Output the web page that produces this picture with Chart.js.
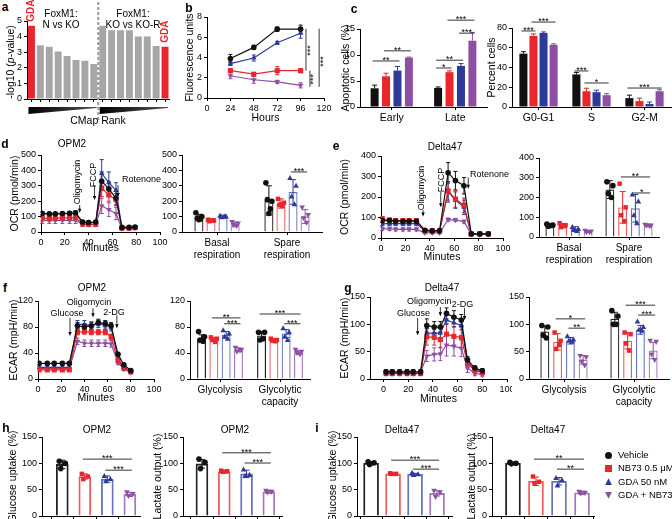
<!DOCTYPE html>
<html><head><meta charset="utf-8">
<script src="https://cdn.jsdelivr.net/npm/chart.js@4.4.1/dist/chart.umd.min.js"></script>
<style>
body{margin:0;background:#fff;font-family:'Liberation Sans',Arial,sans-serif;color:#000}
#fig{position:relative;width:672px;height:519px;overflow:hidden;background:#fff}
#fig canvas{position:absolute}
.t{position:absolute;white-space:nowrap;font-size:10px;line-height:1;transform:translate(-50%,-50%)}
.mk{position:absolute;width:7px;height:7px}
</style></head><body><div id="fig"></div>
<script>
// ---- data ----
const cmapRank = [1,2,3,4,5,6,7,8,9,10,11,12,13,14,15,16];
const cmapLogP = [4.7,3.45,3.35,3.05,2.75,2.5,2.45,2.25,4.7,4.4,4.4,4.4,4.0,4.0,3.4,3.35];

const treatments = ['Vehicle','NB73 0.5 μM','GDA 50 nM','GDA + NB73'];

const hours = [24,48,72,96];
const hourTicks = [0,24,48,72,96,120];
const fluo = [[3.9,5.0,6.8,6.8],[2.7,2.35,2.7,2.7],[3.4,3.95,5.45,6.4],[2.2,1.8,1.6,1.25]];
const fluoErr = [[0.4,0.2,0.2,0.4],[0.2,0.15,0.4,0.2],[0.2,0.3,0.15,0.5],[0.3,0.35,0.15,0.25]];

const apoCats = ['Early','Late'];
const apoPct = [[3.6,3.65],[5.9,6.7],[7.0,7.9],[9.5,12.75]];
const apoErr = [[0.6,0.2],[0.6,0.25],[0.8,0.45],[0.1,1.6]];
const cycCats = ['G0-G1','S','G2-M'];
const cycPct = [[54,33,9],[72,16,6],[75,15,3],[63,12,16]];
const cycErr = [[2,2,3],[2,3,3],[1,2,2],[1,1.5,1.5]];

const minTicks = [0,20,40,60,80,100];
const ocrTimeO = [1,7,12,18,24,29,35,40,46,51,57,63,68,74,79];
const ocrO = [
  [120,118,118,120,122,125,65,62,65,330,280,220,30,30,32],
  [90,88,90,92,92,95,52,50,50,285,240,210,25,25,28],
  [120,118,118,118,120,120,62,60,62,380,320,270,28,28,30],
  [75,75,75,75,75,75,50,48,48,170,145,120,22,25,25]];
const ocrOErr = [
  [10,8,8,10,10,12,10,10,10,60,45,45,8,8,8],
  [18,18,18,18,18,18,12,12,12,55,40,40,8,8,8],
  [8,8,8,8,8,8,10,10,10,90,70,50,8,8,8],
  [20,20,20,20,20,20,12,12,12,50,45,40,8,8,8]];
const respCats = [['Basal','respiration'],['Spare','respiration']];
const respO = [[95,205],[75,185],[100,260],[50,100]];
const respOErr = [[20,95],[10,30],[10,80],[15,45]];
const respOPts = [
  [[125,100,90,85,80],[320,200,210,150,120]],
  [[80,75,70,75],[215,190,175,170,180]],
  [[105,100,95,100],[350,300,230,180]],
  [[65,55,45,40],[160,110,90,60]]];

const ocrTimeD = [1,7,12,18,23,29,36,42,48,55,61,68,74,81,88];
const ocrD = [
  [85,85,82,82,82,82,38,35,35,318,280,255,20,20,20],
  [95,88,85,85,85,85,35,35,35,230,190,160,20,20,20],
  [70,70,70,70,70,70,35,35,35,225,185,150,18,18,18],
  [45,45,42,42,42,42,25,25,25,90,88,80,18,18,18]];
const ocrDErr = [
  [10,10,8,8,8,8,8,8,8,50,45,40,5,5,5],
  [8,8,8,8,8,8,8,8,8,45,40,35,5,5,5],
  [10,10,10,10,10,10,8,8,8,50,40,35,5,5,5],
  [8,8,8,8,8,8,5,5,5,8,8,8,4,4,4]];
const respD = [[60,240],[58,150],[40,145],[28,60]];
const respDErr = [[6,45],[10,80],[12,70],[5,5]];
const respDPts = [
  [[65,60,55,58],[280,260,220,200]],
  [[70,60,50,55],[270,150,110,80]],
  [[50,40,35,30],[215,180,110,70]],
  [[32,28,25,25],[62,58,58,55]]];

const ecarTimeO = [1,8,14,21,27,34,40,46,52,58,63,69,74,80];
const ecarO = [
  [24,24,24,24,24,82,80,82,87,85,82,38,22,13],
  [14,14,14,14,14,72,73,72,72,72,65,28,17,11],
  [18,18,18,18,18,84,84,82,85,83,80,32,18,12],
  [16,16,16,16,16,58,55,55,55,55,54,25,15,10]];
const ecarOErr = [
  [2,2,2,2,2,5,5,5,5,5,5,3,2,2],
  [2,2,2,2,2,4,4,4,4,4,4,3,2,2],
  [2,2,2,2,2,6,6,6,6,6,6,3,2,2],
  [2,2,2,2,2,5,5,5,5,5,5,3,2,2]];
const glyCats = ['Glycolysis',['Glycolytic','capacity']];
const glyO = [[62,67],[61,60],[68,70],[45,41]];
const glyOErr = [[6,6],[3,2],[5,6],[3,3]];
const glyOPts = [
  [[73,65,60,58],[72,72,60,62]],
  [[64,62,60,57],[62,60,59,58]],
  [[75,70,65,62],[78,72,65,60]],
  [[48,45,42,44],[45,42,40,38]]];

const ecarTimeD = [2,7,13,19,24,30,35,41,46,51,57,63,68,74,80];
const ecarD = [
  [13,13,13,13,13,13,98,95,95,120,113,108,35,20,15],
  [11,11,11,11,11,11,77,76,72,82,78,76,28,15,12],
  [10,10,10,10,10,10,84,84,84,108,103,98,30,18,12],
  [12,12,12,12,12,12,42,45,46,62,60,56,20,10,8]];
const ecarDErr = [
  [4,4,4,4,4,4,12,10,10,10,12,10,6,4,4],
  [4,4,4,4,4,4,15,14,15,20,18,18,8,5,5],
  [4,4,4,4,4,4,8,8,8,8,8,8,6,4,4],
  [4,4,4,4,4,4,10,12,12,20,18,15,8,4,4]];
const glyD = [[87,110],[68,70],[70,90],[35,52]];
const glyDErr = [[10,12],[15,15],[6,8],[8,15]];
const glyDPts = [
  [[98,95,80,75],[125,115,100,100]],
  [[85,70,55,62],[85,82,65,52]],
  [[78,72,70,68],[105,95,90,88]],
  [[42,40,32,25],[70,68,45,35]]];

const glucO = [98,75,70,41], glucOErr = [8,5,6,4];
const glucOPts = [[104,100,90],[80,75,70],[76,70,66],[45,42,38]];
const lacO = [99,84,80,46], lacOErr = [8,2,7,3];
const lacOPts = [[108,102,90],[86,85,84],[88,78,76],[48,46,45]];
const glucD = [100,80,79,43], glucDErr = [3,1,2,5];
const glucDPts = [[103,101,98],[81,80,80],[82,79,78],[48,45,36]];
const lacD = [100,66,66,44], lacDErr = [2,8,7,3];
const lacDPts = [[102,100,99],[75,65,62],[72,68,58],[46,44,43]];
const barPos = [1,2,3,4];

// ---- styles ----
const FONT = "'Liberation Sans', Arial, sans-serif";
Chart.defaults.font.family = FONT;
Chart.defaults.color = '#000';
const SER = [
  {c:'#111111', lc:'#222222', ps:'circle', rot:0, r:2.8},
  {c:'#e8262b', lc:'#ef5a5e', ps:'rect', rot:0, r:3.6},
  {c:'#2d3a98', lc:'#6674c2', ps:'triangle', rot:0, r:3.2},
  {c:'#8d4fa2', lc:'#a577bd', ps:'triangle', rot:180, r:3.2}];
const RED = '#e8262b', GREY = '#a6a6a6';
const TICK = 9;

const fig = document.getElementById('fig');
const extras = {};

function put(html, x, y, css) {
  const d = document.createElement('div');
  d.className = 't'; d.innerHTML = html;
  d.style.left = x + 'px'; d.style.top = y + 'px';
  if (css) d.style.cssText += css;
  fig.appendChild(d);
  return d;
}

function pick(v, i) { return Array.isArray(v) ? v[i] : v; }

function mark(ctx, st, x, y, r) {
  ctx.beginPath();
  if (st.ps === 'circle') ctx.arc(x, y, r, 0, Math.PI * 2);
  else if (st.ps === 'rect') ctx.rect(x - r * 0.8, y - r * 0.8, r * 1.6, r * 1.6);
  else {
    const s = st.rot ? -1 : 1;
    ctx.moveTo(x, y - s * r * 1.1); ctx.lineTo(x + r, y + s * r * 0.7); ctx.lineTo(x - r, y + s * r * 0.7);
    ctx.closePath();
  }
  ctx.fill();
}

function errBars(ch, di, up) {
  const ds = ch.data.datasets[di], meta = ch.getDatasetMeta(di), ys = ch.scales.y, ctx = ch.ctx;
  ctx.save(); ctx.lineWidth = 1;
  meta.data.forEach((el, i) => {
    const d = ds.data[i], v = typeof d === 'object' ? d.y : d, e = ds.errs[i];
    if (!e) return;
    const x = el.x, ya = ys.getPixelForValue(v + e), yb = ys.getPixelForValue(up ? v : v - e), w = ds.cap || 2.5;
    ctx.strokeStyle = pick(ds.errColor, i);
    ctx.beginPath(); ctx.moveTo(x, ya); ctx.lineTo(x, yb);
    ctx.moveTo(x - w, ya); ctx.lineTo(x + w, ya);
    if (!up) { ctx.moveTo(x - w, yb); ctx.lineTo(x + w, yb); }
    ctx.stroke();
  });
  ctx.restore();
}

const JIT = [-3, 3, -1.5, 1.5, 0];
function dots(ch, di) {
  const ds = ch.data.datasets[di], meta = ch.getDatasetMeta(di), ys = ch.scales.y, ctx = ch.ctx;
  meta.data.forEach((el, i) => {
    const st = pick(ds.dotStyle, i);
    ctx.fillStyle = st.c;
    ds.pts[i].forEach((v, k) => mark(ctx, st, el.x + JIT[k], ys.getPixelForValue(v), 2.8));
  });
}

function sig(ch, a, b, yv, txt) {
  const ea = ch.getDatasetMeta(a[0]).data[a[1]], eb = ch.getDatasetMeta(b[0]).data[b[1]];
  const y = ch.scales.y.getPixelForValue(yv), ctx = ch.ctx;
  ctx.strokeStyle = '#000'; ctx.lineWidth = 0.8;
  ctx.beginPath(); ctx.moveTo(ea.x - 2, y); ctx.lineTo(eb.x + 2, y); ctx.stroke();
  ctx.fillStyle = '#000'; ctx.font = '9px ' + FONT; ctx.textAlign = 'center'; ctx.textBaseline = 'alphabetic';
  ctx.fillText(txt, (ea.x + eb.x) / 2, y + 2);
}

function note(ch, txt, xv, yv, opt) {
  opt = opt || {};
  const ctx = ch.ctx, x = ch.scales.x.getPixelForValue(xv), y = ch.scales.y.getPixelForValue(yv);
  ctx.save(); ctx.translate(x, y); if (opt.rot) ctx.rotate(opt.rot);
  ctx.font = (opt.bold ? 'bold ' : '') + (opt.size || 9) + 'px ' + FONT;
  ctx.fillStyle = opt.color || '#000'; ctx.textAlign = opt.align || 'center'; ctx.textBaseline = 'middle';
  ctx.fillText(txt, 0, 0); ctx.restore();
}

function arrow(ch, xv, y1v, y2v) {
  const ctx = ch.ctx, x = ch.scales.x.getPixelForValue(xv);
  const y1 = ch.scales.y.getPixelForValue(y1v), y2 = ch.scales.y.getPixelForValue(y2v);
  ctx.strokeStyle = '#000'; ctx.fillStyle = '#000'; ctx.lineWidth = 0.8;
  ctx.beginPath(); ctx.moveTo(x, y1); ctx.lineTo(x, y2 - 2); ctx.stroke();
  ctx.beginPath(); ctx.moveTo(x, y2); ctx.lineTo(x - 1.7, y2 - 4); ctx.lineTo(x + 1.7, y2 - 4); ctx.closePath(); ctx.fill();
}

function vline(ch, xv, y1v, y2v) {
  const ctx = ch.ctx, x = ch.scales.x.getPixelForValue(xv);
  ctx.strokeStyle = '#000'; ctx.lineWidth = 0.8;
  ctx.beginPath(); ctx.moveTo(x, ch.scales.y.getPixelForValue(y1v)); ctx.lineTo(x, ch.scales.y.getPixelForValue(y2v)); ctx.stroke();
}

Chart.register({
  id: 'extras',
  beforeDatasetsDraw(ch) {
    if (ch.config.type === 'line') ch.data.datasets.forEach((ds, i) => { if (ds.errs) errBars(ch, i, false); });
  },
  afterDatasetsDraw(ch) {
    if (ch.config.type === 'bar') ch.data.datasets.forEach((ds, i) => {
      if (ds.errs) errBars(ch, i, ds.upOnly);
      if (ds.pts) dots(ch, i);
    });
    const f = extras[ch.canvas.id];
    if (f) { ch.ctx.save(); f(ch); ch.ctx.restore(); }
  }
});

const AXLINE = { display: true, color: '#000', width: 1 };
const TICKGRID = { drawOnChartArea: false, drawTicks: true, tickLength: 3, tickColor: '#000', color: '#000' };
function titleOpt(t) { return { display: !!t, text: t || '', font: { size: 10.5 }, color: '#000', padding: 0 }; }
function yLin(min, max, step, title) {
  return { type: 'linear', min, max, border: AXLINE, grid: TICKGRID,
    ticks: { stepSize: step, font: { size: TICK }, color: '#000', padding: 2 }, title: titleOpt(title) };
}
function xLin(min, max, ticks, title, hide) {
  const tk = { font: { size: TICK }, color: '#000', padding: 2 };
  if (hide) tk.callback = () => '';
  return { type: 'linear', min, max, offset: false,
    afterBuildTicks: s => { s.ticks = ticks.map(v => ({ value: v })); },
    border: AXLINE, grid: TICKGRID, ticks: tk, title: titleOpt(title) };
}
function xCat(size, hide) {
  const tk = { font: { size }, color: '#000', padding: 2, maxRotation: 0, autoSkip: false };
  if (hide) tk.callback = () => '';
  return { type: 'category', offset: true, border: AXLINE,
    grid: Object.assign({ offset: false }, TICKGRID), ticks: tk };
}

function make(id, g, cfg) {
  const [L, T, W, H, x0, y0, x1, y1] = g;
  const cv = document.createElement('canvas');
  cv.id = id; cv.width = W; cv.height = H;
  cv.style.left = L + 'px'; cv.style.top = T + 'px';
  cv.style.width = W + 'px'; cv.style.height = H + 'px';
  fig.appendChild(cv);
  const o = cfg.options;
  Object.assign(o, { responsive: false, animation: false, devicePixelRatio: 1,
    layout: { autoPadding: false, padding: { left: 0, top: y0 - T, right: L + W - x1, bottom: 0 } },
    plugins: { legend: { display: false }, tooltip: { enabled: false } } });
  o.scales.x.afterFit = s => { s.height = T + H - y1; s.paddingLeft = 0; s.paddingRight = 0; };
  o.scales.y.afterFit = s => { s.width = x0 - L; s.paddingTop = 0; s.paddingBottom = 0; };
  return new Chart(cv, cfg);
}

function lineChart(id, g, times, rows, errs, xmin, xmax, xTicks, ymax, ystep, ytitle, xtitle) {
  return make(id, g, {
    type: 'line',
    data: { datasets: rows.map((r, s) => ({
      data: times.map((t, i) => ({ x: t, y: r[i] })),
      errs: errs[s], errColor: SER[s].c, cap: 2,
      borderColor: SER[s].c, backgroundColor: SER[s].c, borderWidth: 1.2, tension: 0,
      pointStyle: SER[s].ps, pointRotation: SER[s].rot, pointRadius: SER[s].r,
      pointBackgroundColor: SER[s].c, pointBorderColor: SER[s].c, pointBorderWidth: 0 })) },
    options: { scales: { x: xLin(xmin, xmax, xTicks, xtitle), y: yLin(0, ymax, ystep, ytitle) } }
  });
}

function groupBars(id, g, cats, rows, errs, pts, ymax, ystep, ytitle, catPct, barPct, solid, lsize) {
  return make(id, g, {
    type: 'bar',
    data: { labels: cats, datasets: rows.map((r, s) => ({
      data: r, errs: errs[s], errColor: SER[s].c, upOnly: solid, cap: solid ? 2.5 : 3,
      pts: pts ? pts[s] : undefined, dotStyle: SER[s],
      backgroundColor: solid ? SER[s].c : 'rgba(255,255,255,0)', borderColor: SER[s].lc,
      borderWidth: solid ? 0 : 1.2, categoryPercentage: catPct, barPercentage: barPct })) },
    options: { scales: { x: xCat(lsize), y: yLin(0, ymax, ystep, ytitle) } }
  });
}

function singleBars(id, g, vals, errs, pts, xmin, xmax, ytitle, thick) {
  return make(id, g, {
    type: 'bar',
    data: { datasets: [{
      data: vals.map((v, i) => ({ x: barPos[i], y: v })),
      errs, errColor: SER.map(s => s.c), cap: 3, pts, dotStyle: SER,
      backgroundColor: 'rgba(255,255,255,0)', borderColor: SER.map(s => s.lc),
      borderWidth: 1.2, barThickness: thick }] },
    options: { scales: { x: xLin(xmin, xmax, barPos, '', true), y: yLin(0, 150, 50, ytitle) } }
  });
}

// ---- panel a ----
extras.a = ch => {
  const ctx = ch.ctx, m = ch.getDatasetMeta(0).data, ca = ch.chartArea;
  const xd = (m[7].x + m[8].x) / 2;
  ctx.strokeStyle = '#9a9a9a'; ctx.lineWidth = 2; ctx.setLineDash([3, 2]);
  ctx.beginPath(); ctx.moveTo(xd, 2); ctx.lineTo(xd, ca.bottom + 22); ctx.stroke(); ctx.setLineDash([]);
  [[0, 7], [8, 15]].forEach(([i, j]) => {
    const xl = m[i].x - 3, xr = m[j].x + 3, yt = ca.bottom + 8, yb = ca.bottom + 15;
    const gr = ctx.createLinearGradient(xl, 0, xr, 0);
    gr.addColorStop(0, '#000'); gr.addColorStop(1, '#555');
    ctx.fillStyle = gr;
    ctx.beginPath(); ctx.moveTo(xl, yt); ctx.lineTo(xr, yt); ctx.lineTo(xr, yt + 1); ctx.lineTo(xl, yb); ctx.closePath(); ctx.fill();
  });
  [0, 15].forEach(i => note(ch, 'GDA', i, cmapLogP[i] + 0.25, { rot: -Math.PI / 2, align: 'left', bold: true, color: RED, size: 10 }));
};
make('a', [12, 0, 175, 125, 27, 21, 169.5, 99], {
  type: 'bar',
  data: { labels: cmapRank, datasets: [{ data: cmapLogP,
    backgroundColor: cmapLogP.map((v, i) => (i === 0 || i === cmapLogP.length - 1) ? RED : GREY),
    categoryPercentage: 1, barPercentage: 0.78 }] },
  options: { scales: { x: xCat(8, true), y: yLin(0, 5, 1, '') } }
});

// ---- panel b ----
extras.b = ch => {
  [[101.5, 6.85, 2.7, 105.8, 4.7], [115, 6.85, 1.1, 119.5, 3.6], [105.6, 2.7, 1.1, 109.7, 1.85]].forEach(([x, a, b, tx, ty]) => {
    vline(ch, x, a, b);
    note(ch, '***', tx, ty, { rot: -Math.PI / 2, size: 9 });
  });
};
lineChart('b', [184, 8, 148, 116, 207, 17, 324, 98], hours, fluo, fluoErr, 0, 120, hourTicks, 8, 2, 'Fluorescence units', 'Hours');

// ---- panel c ----
extras.cL = ch => {
  sig(ch, [0, 0], [2, 0], 8.85, '**'); sig(ch, [1, 0], [3, 0], 10.8, '**');
  sig(ch, [0, 1], [1, 1], 7.5, '*'); sig(ch, [0, 1], [2, 1], 9.0, '**');
  sig(ch, [2, 1], [3, 1], 14.2, '***'); sig(ch, [1, 1], [3, 1], 16.7, '***');
};
groupBars('cL', [340, 5, 155, 120, 360, 29, 487, 107], apoCats, apoPct, apoErr, null, 15, 5, 'Apoptotic cells (%)', 0.72, 0.7, true, 10.5);
extras.cR = ch => {
  sig(ch, [0, 0], [1, 0], 77, '***'); sig(ch, [1, 0], [3, 0], 86, '***');
  sig(ch, [0, 1], [1, 1], 36.5, '***'); sig(ch, [1, 1], [3, 1], 24.3, '*');
  sig(ch, [0, 2], [3, 2], 19.2, '***');
};
groupBars('cR', [486, 5, 186, 120, 512, 28, 671, 107], cycCats, cycPct, cycErr, null, 80, 20, 'Percent cells', 0.76, 0.8, true, 10.5);

// ---- panel d ----
extras.dL = ch => {
  const R = -Math.PI / 2;
  note(ch, 'Oligomycin', 30.5, 325, { rot: R }); arrow(ch, 32.5, 175, 125);
  note(ch, 'FCCP', 44, 370, { rot: R }); arrow(ch, 45, 305, 208);
  note(ch, 'Rotenone', 68, 338, { align: 'left' }); arrow(ch, 64.7, 305, 227);
};
lineChart('dL', [9, 148, 166, 106, 41, 155, 160, 232], ocrTimeO, ocrO, ocrOErr, 0, 100, minTicks, 500, 100, 'OCR (pmol/min)', 'Minutes');
extras.dR = ch => { sig(ch, [2, 1], [3, 1], 390, '***'); };
groupBars('dR', [160, 148, 175, 118, 182, 155, 322, 232], respCats, respO, respOErr, respOPts, 500, 100, '', 0.69, 0.75, false, 10);

// ---- panel e ----
extras.eL = ch => {
  const R = -Math.PI / 2;
  note(ch, 'Oligomycin', 33, 244, { rot: R }); arrow(ch, 34.5, 135, 105);
  note(ch, 'FCCP', 49.2, 283, { rot: R }); arrow(ch, 49, 225, 150);
  note(ch, 'Rotenone', 73, 312, { align: 'left' }); arrow(ch, 71.5, 295, 240);
};
lineChart('eL', [339, 148, 171, 115, 381, 156, 503, 238], ocrTimeD, ocrD, ocrDErr, 0, 100, minTicks, 400, 100, 'OCR (pmol/min)', 'Minutes');
extras.eR = ch => { sig(ch, [1, 1], [3, 1], 304, '**'); sig(ch, [2, 1], [3, 1], 223, '*'); };
groupBars('eR', [515, 148, 157, 122, 539, 158, 659, 237], respCats, respD, respDErr, respDPts, 400, 100, '', 0.85, 0.7, false, 10);

// ---- panel f ----
extras.fL = ch => {
  note(ch, 'Glucose', 25, 101.5); arrow(ch, 27.6, 94, 66);
  note(ch, 'Oligomycin', 44, 117); arrow(ch, 47.4, 109, 95);
  note(ch, '2-DG', 65.5, 103); arrow(ch, 68, 98, 78);
};
lineChart('fL', [8, 292, 161, 112, 38, 301, 154, 379], ecarTimeO, ecarO, ecarOErr, 0, 100, minTicks, 120, 40, 'ECAR (mpH/min)', 'Minutes');
extras.fR = ch => {
  sig(ch, [1, 0], [3, 0], 94, '**'); sig(ch, [2, 0], [3, 0], 85, '***');
  sig(ch, [0, 1], [3, 1], 100, '***'); sig(ch, [2, 1], [3, 1], 85, '***');
};
groupBars('fR', [168, 292, 147, 120, 190, 301, 310, 379], glyCats, glyO, glyOErr, glyOPts, 120, 40, '', 0.82, 0.73, false, 10);

// ---- panel g ----
extras.gL = ch => {
  note(ch, 'Glucose', 24.3, 120.7); arrow(ch, 27.6, 111.5, 80);
  note(ch, 'Oligomycin', 37, 141); arrow(ch, 46, 131.6, 115);
  note(ch, '2-DG', 64, 137); arrow(ch, 65.6, 130, 108);
};
lineChart('gL', [339, 285, 173, 120, 370, 297, 507, 379], ecarTimeD, ecarD, ecarDErr, -11, 100, minTicks, 150, 50, 'ECAR (mpH/min)', 'Minutes');
extras.gR = ch => {
  sig(ch, [1, 0], [3, 0], 110, '*'); sig(ch, [2, 0], [3, 0], 93, '**');
  sig(ch, [1, 1], [3, 1], 135, '***'); sig(ch, [2, 1], [3, 1], 117, '***');
};
groupBars('gR', [505, 285, 167, 127, 529, 297, 669, 379], glyCats, glyD, glyDErr, glyDPts, 150, 50, '', 0.73, 0.7, false, 10);

// ---- panels h, i ----
extras.hL = ch => { sig(ch, [0, 1], [0, 3], 108, '***'); sig(ch, [0, 2], [0, 3], 87, '***'); };
singleBars('hL', [7, 425, 141, 94, 42, 437, 140, 516], glucO, glucOErr, glucOPts, 0.1, 4.45, 'Glucose uptake (%)', 12);
extras.hR = ch => { sig(ch, [0, 1], [0, 3], 120, '***'); sig(ch, [0, 2], [0, 3], 100.6, '***'); };
singleBars('hR', [152, 425, 136, 94, 183, 437, 282, 516], lacO, lacOErr, lacOPts, 0.15, 4.59, 'Lactate output (%)', 12);
extras.iL = ch => { sig(ch, [0, 1], [0, 3], 106, '***'); sig(ch, [0, 2], [0, 3], 89, '***'); };
singleBars('iL', [327, 425, 131, 94, 357, 437, 452, 516], glucD, glucDErr, glucDPts, 0.36, 4.68, 'Glucose uptake (%)', 15);
extras.iR = ch => { sig(ch, [0, 1], [0, 3], 108, '**'); sig(ch, [0, 2], [0, 3], 89, '**'); };
singleBars('iR', [466, 425, 131, 94, 492, 437, 594, 516], lacD, lacDErr, lacDPts, 0.09, 4.52, 'Lactate output (%)', 15);

// ---- text ----
const B = 'font-weight:bold;font-size:12px;';
[['a', 5, 7], ['b', 189, 8], ['c', 354, 9], ['d', 5, 144], ['e', 336, 146], ['f', 5, 288], ['g', 348, 288], ['h', 6, 428], ['i', 317, 428]]
  .forEach(([l, x, y]) => put(l, x, y, B));
put('FoxM1:', 61, 14, 'font-size:10px'); put('N vs KO', 61, 25, 'font-size:10px');
put('FoxM1:', 133, 14, 'font-size:10px'); put('KO vs KO-R', 133, 25, 'font-size:10px');
put('CMap Rank', 98, 120, 'font-size:10.5px');
put('-log10 (<i>p</i>-value)', 10, 62, 'font-size:10.5px;transform:translate(-50%,-50%) rotate(-90deg)');
put('OPM2', 72, 144); put('Delta47', 445, 147); put('OPM2', 92, 288); put('Delta47', 442, 288);
put('OPM2', 97, 430); put('OPM2', 235, 430); put('Delta47', 402, 430); put('Delta47', 548, 430);

const clip = ['', '', 'clip-path:polygon(50% 0,100% 100%,0 100%);', 'clip-path:polygon(0 0,100% 0,50% 100%);'];
treatments.forEach((n, s) => {
  const y = 455 + s * 13.4;
  const m = document.createElement('div');
  m.className = 'mk';
  m.style.cssText = `left:${605}px;top:${y - 3.5}px;background:${SER[s].c};` + (s === 0 ? 'border-radius:50%;' : '') + clip[s];
  fig.appendChild(m);
  put(n, 618, y, 'transform:translate(0,-50%);font-size:9.5px');
});
</script></body></html>
